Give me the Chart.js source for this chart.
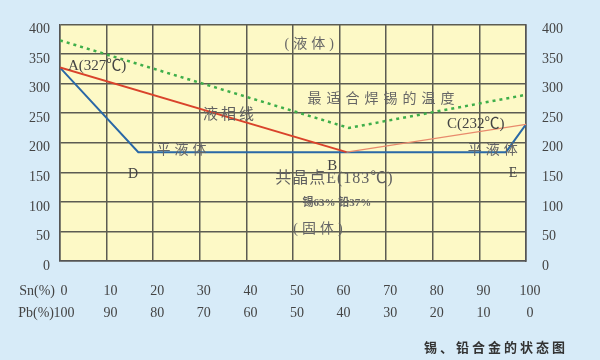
<!DOCTYPE html>
<html><head><meta charset="utf-8">
<script src="https://cdn.jsdelivr.net/npm/chart.js@4"></script>
<style>html,body{margin:0;padding:0;background:#d7ebf8;}#wrap{width:600px;height:360px;position:relative;}</style>
</head><body><div id="wrap"><canvas id="c"></canvas></div>
<script>
// ---- data ----
const snTicks = ['0','10','20','30','40','50','60','70','80','90','100'];
const pbTicks = ['100','90','80','70','60','50','40','30','20','10','0'];
const tempTicks = [0,50,100,150,200,250,300,350,400];

const solidusSn = [0, 16.8, 61.5, 95.7, 100];
const solidusT  = [327, 184, 184, 184, 231];
const liquidusLeftSn = [0, 61.5];
const liquidusLeftT  = [327, 184];
const liquidusRightSn = [61.5, 100];
const liquidusRightT  = [184, 231];
const solderSn = [0, 62, 100];
const solderT  = [373, 225, 281];

const noteTexts = ['(液体)','A(327℃)','液相线','最适合焊锡的温度','C(232℃)','平液体','D','B','共晶点E(183℃)','锡63% 铅37%','(固体)','平液体','E'];
const noteSn    = [53.9, 1.7, 36.5, 69.4, 89.2, 26.5, 15.7, 58.4, 58.9, 59.4, 55.8, 93.3, 97.2];
const noteT     = [367, 330, 246, 274, 231, 187.5, 146, 161, 139, 98, 53, 187.5, 149];
const caption = '锡、铅合金的状态图';
const rowTitles = ['Sn(%)', 'Pb(%)'];

// ---- styles for notes (kept separate) ----
const SERIF = '"Liberation Serif","Noto Sans CJK SC",serif';
const noteStyles = [
  {size:14, color:'#666', sp:4, align:'center'},
  {size:15, color:'#444', sp:0, align:'left'},
  {size:15, color:'#606060', sp:3, align:'center'},
  {size:14, color:'#666', sp:5, align:'center'},
  {size:15, color:'#444', sp:0, align:'center'},
  {size:14, color:'#666', sp:4, align:'center'},
  {size:14, color:'#444', sp:0, align:'center'},
  {size:15, color:'#444', sp:0, align:'center'},
  {size:16, color:'#606060', sp:1, align:'center'},
  {size:11, color:'#666', sp:0, align:'center', weight:'bold'},
  {size:14, color:'#666', sp:4, align:'center'},
  {size:14, color:'#666', sp:4, align:'center'},
  {size:14, color:'#444', sp:0, align:'center'}
];

const toPts = (xs, ys) => xs.map((x, i) => ({x, y: ys[i]}));

const bgPlugin = {
  id: 'bg',
  beforeDraw(chart) {
    const {ctx, chartArea: a} = chart;
    ctx.save();
    ctx.fillStyle = '#d7ebf8';
    ctx.fillRect(0, 0, chart.width, chart.height);
    ctx.fillStyle = '#fdf9c6';
    ctx.fillRect(a.left, a.top, a.right - a.left, a.bottom - a.top);
    ctx.restore();
  }
};

const textPlugin = {
  id: 'texts',
  afterDraw(chart) {
    const {ctx, chartArea: a} = chart;
    const xs = chart.scales.x, ys = chart.scales.y;
    ctx.save();
    ctx.textBaseline = 'middle';
    noteTexts.forEach((t, i) => {
      const s = noteStyles[i];
      ctx.font = (s.weight || 'normal') + ' ' + s.size + 'px ' + SERIF;
      ctx.fillStyle = s.color;
      ctx.letterSpacing = s.sp + 'px';
      ctx.textAlign = s.align;
      ctx.fillText(t, xs.getPixelForValue(noteSn[i]), ys.getPixelForValue(noteT[i]));
    });
    // row titles for x axis
    ctx.letterSpacing = '0px';
    ctx.font = '14px ' + SERIF;
    ctx.fillStyle = '#444';
    ctx.textAlign = 'right';
    ctx.fillText(rowTitles[0], a.left - 5, a.bottom + 30);
    ctx.fillText(rowTitles[1], a.left - 6, a.bottom + 52);
    // caption
    ctx.font = 'bold 13px "Noto Sans CJK SC",sans-serif';
    ctx.fillStyle = '#333';
    ctx.letterSpacing = '3px';
    ctx.textAlign = 'right';
    ctx.fillText(caption, 568, 347);
    ctx.restore();
  }
};

const gridColor = '#5c5c52';
const tickFont = {family: SERIF, size: 14};

new Chart(document.getElementById('c'), {
  type: 'line',
  data: {
    datasets: [
      {data: toPts(solderSn, solderT), borderColor: '#3fae4a', borderWidth: 2.5, borderDash: [3, 4], pointRadius: 0, tension: 0},
      {data: toPts(liquidusRightSn, liquidusRightT), borderColor: '#e88a6c', borderWidth: 1.3, pointRadius: 0},
      {data: toPts(liquidusLeftSn, liquidusLeftT), borderColor: '#d9432b', borderWidth: 2, pointRadius: 0},
      {data: toPts(solidusSn, solidusT), borderColor: '#2a68a6', borderWidth: 2, pointRadius: 0}
    ]
  },
  options: {
    responsive: true,
    maintainAspectRatio: false,
    animation: false,
    layout: {padding: {top: 20, left: 0, right: 0, bottom: 0}},
    plugins: {legend: {display: false}, tooltip: {enabled: false}},
    scales: {
      x: {
        type: 'linear', min: 0, max: 100,
        grid: {color: gridColor, lineWidth: 1.5, drawTicks: false},
        border: {color: '#555', width: 1.5},
        ticks: {
          stepSize: 10, padding: 19, labelOffset: 4, maxRotation: 0, autoSkip: false,
          font: {family: SERIF, size: 14, lineHeight: 22 / 14}, color: '#444',
          callback: (v) => { const i = Math.round(v / 10); return [snTicks[i], pbTicks[i]]; }
        },
        afterFit: (s) => { s.height = 99; }
      },
      y: {
        position: 'left', min: 0, max: 400,
        grid: {color: gridColor, lineWidth: 1.5, drawTicks: false},
        border: {color: '#555', width: 1.5},
        ticks: {stepSize: 50, padding: 10, labelOffset: 5, font: tickFont, color: '#444',
          callback: (v) => tempTicks.includes(v) ? String(v) : ''},
        afterFit: (s) => { s.width = 60; }
      },
      y2: {
        position: 'right', min: 0, max: 400,
        grid: {display: false, drawTicks: false},
        border: {color: '#555', width: 1.5},
        ticks: {stepSize: 50, padding: 16, labelOffset: 5, font: tickFont, color: '#444',
          callback: (v) => tempTicks.includes(v) ? String(v) : ''},
        afterFit: (s) => { s.width = 74; }
      }
    }
  },
  plugins: [bgPlugin, textPlugin]
});
</script>
</body></html>
